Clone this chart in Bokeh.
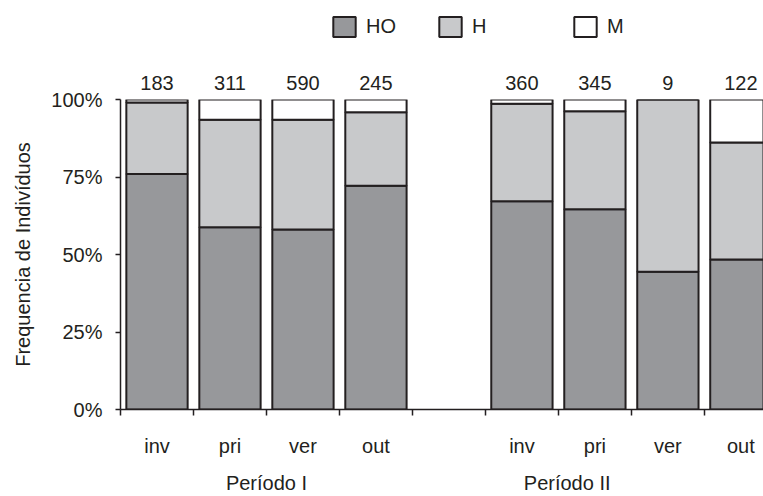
from bokeh.plotting import figure
from bokeh.layouts import column
from bokeh.models import (Range1d, FixedTicker, LinearAxis, Legend, LegendItem,
                          PrintfTickFormatter, ColumnDataSource)
from bokeh.embed import file_html
from bokeh.resources import INLINE

# ---- data ----
seasons = ["inv", "pri", "ver", "out", "inv", "pri", "ver", "out"]
slots = [0, 1, 2, 3, 5, 6, 7, 8]          # category slot index (slot 4 is the gap)
counts = [183, 311, 590, 245, 360, 345, 9, 122]
ho = [76.0, 58.8, 58.1, 72.2, 67.2, 64.6, 44.4, 48.4]
h = [23.0, 34.7, 35.4, 23.7, 31.4, 31.6, 55.6, 37.7]
m = [1.0, 6.5, 6.5, 4.1, 1.4, 3.8, 0.0, 13.9]
series = ["HO", "H", "M"]
periods = ["Período I", "Período II"]
period_pos = [2.0, 6.12]
y_ticks = [0, 25, 50, 75, 100]

FONT = "Liberation Sans"
TXT = "#231f20"
colors = ["#97989b", "#c8c9cb", "#ffffff"]

centers = [s + 0.5 for s in slots]
source = ColumnDataSource(dict(x=centers, HO=ho, H=h, M=m))

# ---- legend strip (separate small figure on top; its bars are hidden) ----
LH = 45
lf = figure(width=763, height=LH, x_range=Range1d(0, 8.81), y_range=Range1d(0, 100),
            x_axis_type=None, y_axis_type=None, output_backend="svg",
            toolbar_location=None, min_border_left=0, min_border_right=0,
            min_border_top=0, min_border_bottom=0)
lf.outline_line_color = None
lf.xgrid.grid_line_color = None
lf.ygrid.grid_line_color = None
lrs = lf.vbar_stack(series, x="x", width=0.84, source=source, fill_color=colors,
                    line_color=TXT, line_width=2)
leg_x = [210, 316, 451]   # px from the plot-area left edge
for rr, name, lx in zip(lrs, series, leg_x):
    rr.visible = False
    lg = Legend(items=[LegendItem(label=name, renderers=[rr])], location=(lx, 6),
                orientation="horizontal", glyph_width=28, glyph_height=25,
                label_standoff=8, padding=0, margin=0, spacing=0,
                border_line_color=None, background_fill_alpha=0,
                inactive_fill_alpha=0, click_policy="none",
                label_text_font=FONT, label_text_font_size="20px",
                label_text_color=TXT)
    lf.add_layout(lg)

# ---- main chart ----
p = figure(width=763, height=496 - LH, x_range=Range1d(0, 8.81), y_range=Range1d(0, 100),
           output_backend="svg", toolbar_location=None,
           min_border_left=120, min_border_right=0, min_border_top=99 - LH,
           min_border_bottom=86)
p.outline_line_color = None
p.xgrid.grid_line_color = None
p.ygrid.grid_line_color = None

rs = p.vbar_stack(series, x="x", width=0.84, source=source, fill_color=colors,
                  line_color=TXT, line_width=2)

# y axis
ya = p.yaxis[0]
ya.ticker = FixedTicker(ticks=y_ticks)
ya.formatter = PrintfTickFormatter(format="%d%%")
ya.minor_tick_line_color = None
ya.major_tick_out = 5
ya.major_tick_in = 0
ya.major_label_standoff = 13
ya.major_label_text_font = FONT
ya.major_label_text_font_size = "20px"
ya.major_label_text_color = TXT
ya.axis_line_color = TXT
ya.axis_line_width = 1.5
ya.major_tick_line_color = TXT
ya.major_tick_line_width = 1.5
ya.axis_label = "Frequencia de Indivíduos"
ya.axis_label_text_font = FONT
ya.axis_label_text_font_size = "20px"
ya.axis_label_text_font_style = "normal"
ya.axis_label_text_color = TXT
ya.axis_label_standoff = 14

# x axis: boundary ticks (minor) + season labels (major at centers)
xa = p.xaxis[0]
xa.ticker = FixedTicker(ticks=centers, minor_ticks=list(range(0, 9)))
xa.major_label_overrides = {c: s for c, s in zip(centers, seasons)}
xa.major_tick_line_color = None
xa.major_tick_out = 0
xa.major_tick_in = 0
xa.minor_tick_out = 6
xa.minor_tick_in = 0
xa.minor_tick_line_color = TXT
xa.minor_tick_line_width = 1.5
xa.axis_line_color = TXT
xa.axis_line_width = 1.5
xa.major_label_standoff = 19
xa.major_label_text_font = FONT
xa.major_label_text_font_size = "20px"
xa.major_label_text_color = TXT

# period labels
pa = LinearAxis(ticker=FixedTicker(ticks=period_pos),
                major_label_overrides={v: s for v, s in zip(period_pos, periods)})
pa.axis_line_color = None
pa.major_tick_line_color = None
pa.minor_tick_line_color = None
pa.major_tick_out = 0
pa.major_tick_in = 0
pa.major_label_standoff = 12
pa.major_label_text_font = FONT
pa.major_label_text_font_size = "20px"
pa.major_label_text_color = TXT
p.add_layout(pa, "below")

# counts above bars
ca = LinearAxis(ticker=FixedTicker(ticks=centers),
                major_label_overrides={c: str(n) for c, n in zip(centers, counts)})
ca.axis_line_color = None
ca.major_tick_line_color = None
ca.minor_tick_line_color = None
ca.major_tick_out = 0
ca.major_tick_in = 0
ca.major_label_standoff = 10
ca.major_label_text_font = FONT
ca.major_label_text_font_size = "20px"
ca.major_label_text_color = TXT
p.add_layout(ca, "above")

layout = column(lf, p, spacing=0)
open("out.html", "w").write(file_html(layout, INLINE))
